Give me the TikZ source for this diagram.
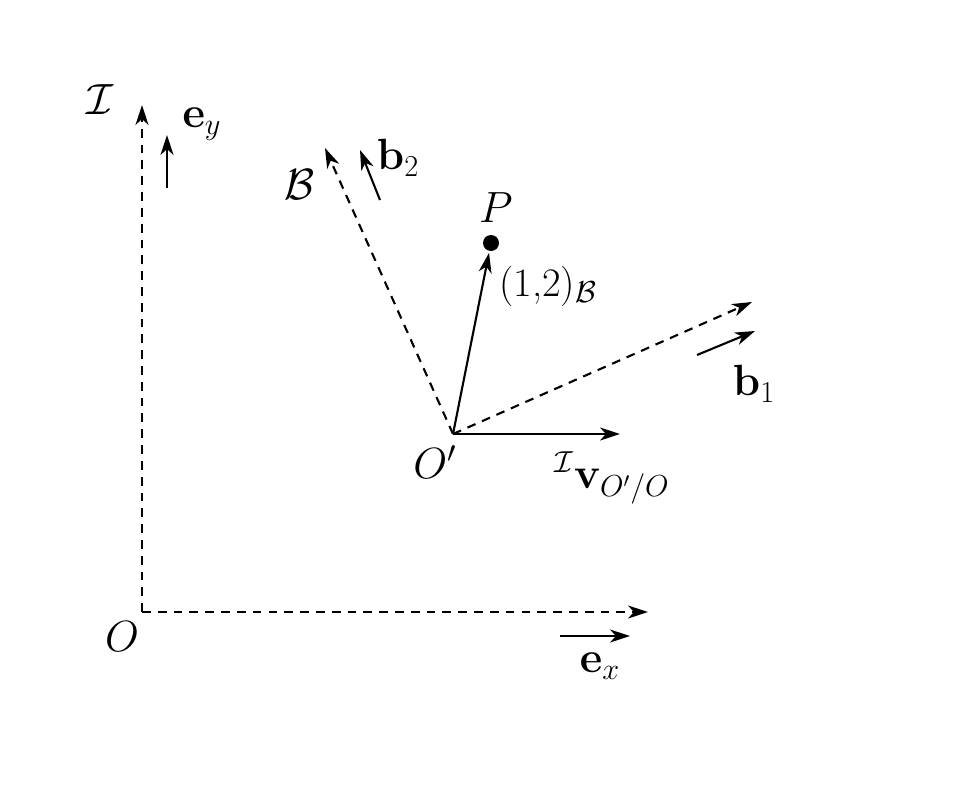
\documentclass[tikz,border=0pt]{standalone}
\usepackage{amsmath,amssymb}
\usepackage{tikz}
\usetikzlibrary{arrows.meta}

\begin{document}
\begin{tikzpicture}[x=0.02cm,y=-0.02cm,
  vec/.style={-{Stealth[length=0.4cm,width=0.26cm,inset=0.12cm]},line width=1.2pt},
  axis/.style={-{Stealth[length=0.4cm,width=0.26cm,inset=0.12cm]},line width=1.2pt,dash pattern=on 5pt off 4pt},
  lbl/.style={font=\fontsize{23pt}{27pt}\selectfont,inner sep=0pt}]
\useasboundingbox (0,0) rectangle (957,785);
% frame I
\coordinate (O) at (142,612);
\coordinate (Itop) at (142,105);
\coordinate (Iright) at (648,612);
\draw[axis] (O) -- (Itop);
\draw[axis] (O) -- (Iright);
\coordinate (eyS) at (167,188); \coordinate (eyE) at (167,135);
\coordinate (exS) at (560,636); \coordinate (exE) at (630,636);
\draw[vec] (eyS) -- (eyE);
\draw[vec] (exS) -- (exE);
\node[lbl] (lI) at (100,100) {$\mathcal{I}$};
\node[lbl] (ley) at (202,124) {$\mathbf{e}_y$};
\node[lbl] (lO) at (122,637) {$O$};
\node[lbl] (lex) at (600,666) {$\mathbf{e}_x$};
% frame B
\coordinate (Op) at (453,434);
\coordinate (Bone) at (752,302);
\coordinate (Btwo) at (325,148);
\draw[axis] (Op) -- (Bone);
\draw[axis] (Op) -- (Btwo);
\coordinate (boS) at (697,355); \coordinate (boE) at (755,331);
\coordinate (btS) at (380,200); \coordinate (btE) at (360,150);
\draw[vec] (boS) -- (boE);
\draw[vec] (btS) -- (btE);
\node[lbl] (lB) at (300,185) {$\mathcal{B}$};
\node[lbl] (lbt) at (398,158) {$\mathbf{b}_2$};
\node[lbl] (lbo) at (754,384) {$\mathbf{b}_1$};
\node[lbl] (lOp) at (435,462) {$O'$};
% velocity and point P
\coordinate (vE) at (620,434);
\draw[vec] (Op) -- (vE);
\node[lbl] (lv) at (612,478) {${}^{\mathcal{I}}\mathbf{v}_{O'/O}$};
\node[circle,fill,inner sep=0pt,minimum size=0.32cm] (P) at (491,243) {};
\draw[vec,shorten >=1pt] (Op) -- (P);
\node[lbl] (lP) at (496,208) {$P$};
\node[lbl] (lc) at (548,286) {(1,2)$_{\mathcal{B}}$};
\end{tikzpicture}
\end{document}
